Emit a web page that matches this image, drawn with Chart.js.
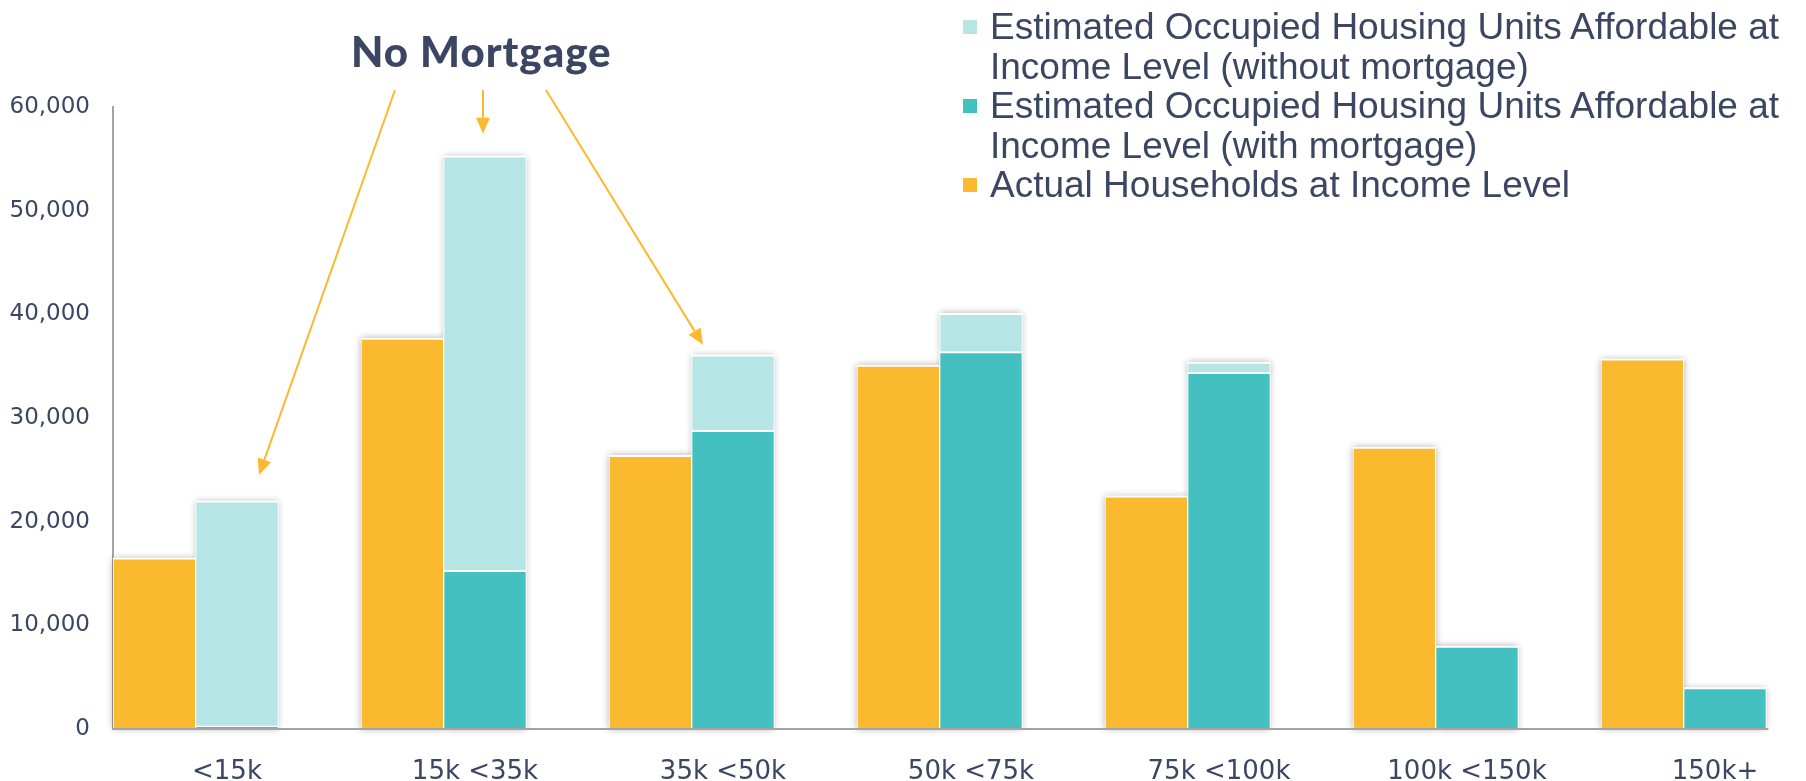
<!DOCTYPE html>
<html><head><meta charset="utf-8">
<script src="https://cdn.jsdelivr.net/npm/chart.js@4"></script>
<style>
html,body{margin:0;padding:0;background:#fff;overflow:hidden;width:1806px;height:781px;}
#wrap{position:absolute;left:0;top:0;width:1856px;height:781px;}
#title{position:absolute;left:351px;top:26px;font:900 42px Lato;color:#3B4662;letter-spacing:1px;white-space:nowrap;}
#legend{position:absolute;left:963px;top:7px;font:37px "Liberation Sans";line-height:39.5px;color:#3B4662;white-space:nowrap;}
.item{position:relative;padding-left:27px;}
.sw{position:absolute;left:0;top:13px;width:14px;height:14px;}
</style></head>
<body>
<div id="wrap"><canvas id="c" width="1856" height="781"></canvas></div>
<div id="title">No Mortgage</div>
<div id="legend"></div>
<script>
const categories = ['<15k', '15k <35k', '35k <50k', '50k <75k', '75k <100k', '100k <150k', '150k+'];
const actualHouseholds = [16500, 37700, 26400, 35100, 22500, 27200, 35700];
const affordableWithMortgage = [300, 15300, 28800, 36400, 34400, 8000, 4000];
const affordableWithoutMortgage = [21700, 40000, 7300, 3700, 1000, 0, 0];
const seriesNames = [
  'Estimated Occupied Housing Units Affordable at<br>Income Level (without mortgage)',
  'Estimated Occupied Housing Units Affordable at<br>Income Level (with mortgage)',
  'Actual Households at Income Level'
];
const colors = {orange:'#FBB92F', teal:'#43C0BF', light:'#B5E6E5', text:'#3B4662', axis:'#A3A3A8'};

// HTML legend
const lg = document.getElementById('legend');
[[seriesNames[0], colors.light],[seriesNames[1], colors.teal],[seriesNames[2], colors.orange]].forEach(([t,c])=>{
  const d=document.createElement('div'); d.className='item';
  d.innerHTML='<span class="sw" style="background:'+c+'"></span>'+t; lg.appendChild(d);
});

const barCommon = {barPercentage:1, categoryPercentage:1, borderColor:'#fff',
  borderWidth:{top:2,left:1,right:1,bottom:0}, borderSkipped:false};

const shadowPlugin = {
  id:'shadowPlugin',
  beforeDatasetsDraw(chart){
    const ctx=chart.ctx; ctx.save();
    ctx.shadowColor='rgba(0,0,0,0.32)'; ctx.shadowBlur=7; ctx.fillStyle='#fff';
    chart.data.datasets.forEach((ds,i)=>{
      const meta=chart.getDatasetMeta(i);
      meta.data.forEach(el=>{
        const p=el.getProps(['x','y','base','width'],true);
        if(!isFinite(p.y)||!isFinite(p.base)||Math.abs(p.base-p.y)<0.5) return;
        ctx.fillRect(p.x-p.width/2, Math.min(p.y,p.base), p.width, Math.abs(p.base-p.y));
      });
    });
    ctx.restore();
  }
};

const axisPlugin = {
  id:'axisPlugin',
  afterDatasetsDraw(chart){
    const ctx=chart.ctx, y=chart.scales.y.getPixelForValue(0);
    const meta=chart.getDatasetMeta(1); const last=meta.data[meta.data.length-1];
    const right=last.x+last.width/2;
    ctx.save(); ctx.strokeStyle=colors.axis; ctx.lineWidth=2;
    ctx.beginPath(); ctx.moveTo(chart.chartArea.left-1,y); ctx.lineTo(right+2,y); ctx.stroke(); ctx.restore();
  }
};

function arrow(ctx,x1,y1,x2,y2){
  const a=Math.atan2(y2-y1,x2-x1), L=16, Wd=7;
  const bx=x2-L*Math.cos(a), by=y2-L*Math.sin(a);
  ctx.beginPath(); ctx.moveTo(x1,y1); ctx.lineTo(bx,by); ctx.stroke();
  ctx.beginPath(); ctx.moveTo(x2,y2);
  ctx.lineTo(bx+Wd*Math.sin(a), by-Wd*Math.cos(a));
  ctx.lineTo(bx-Wd*Math.sin(a), by+Wd*Math.cos(a)); ctx.closePath(); ctx.fill();
}
const arrowPlugin = {
  id:'arrowPlugin',
  afterDraw(chart){
    const ctx=chart.ctx, top=chart.getDatasetMeta(2).data;
    ctx.save(); ctx.strokeStyle=colors.orange; ctx.fillStyle=colors.orange; ctx.lineWidth=2;
    arrow(ctx,395,90, top[0].x+22, top[0].y-26);
    const x2=Math.round(top[1].x-2);
    arrow(ctx,x2,90, x2, top[1].y-22);
    arrow(ctx,546,90, top[2].x-30, top[2].y-10);
    ctx.restore();
  }
};

new Chart(document.getElementById('c'), {
  type:'bar',
  data:{
    labels:categories,
    datasets:[
      Object.assign({label:'Actual Households at Income Level', data:actualHouseholds, backgroundColor:colors.orange, stack:'a'}, barCommon),
      Object.assign({label:'Estimated Occupied Housing Units Affordable at Income Level (with mortgage)', data:affordableWithMortgage, backgroundColor:colors.teal, stack:'b'}, barCommon),
      Object.assign({label:'Estimated Occupied Housing Units Affordable at Income Level (without mortgage)', data:affordableWithoutMortgage, backgroundColor:colors.light, stack:'b'}, barCommon),
      Object.assign({label:'', data:categories.map(()=>null), backgroundColor:'rgba(0,0,0,0)', stack:'c'}, barCommon)
    ]
  },
  options:{
    responsive:false, animation:false, devicePixelRatio:1,
    layout:{padding:{left:0,top:107,right:7,bottom:0}},
    plugins:{legend:{display:false}, tooltip:{enabled:false}},
    scales:{
      x:{stacked:true, grid:{display:false}, border:{display:false},
         ticks:{font:{family:'DejaVu Sans',size:26}, color:colors.text, padding:20, labelOffset:-10, maxRotation:0, autoSkip:false},
         afterFit(s){s.height=52;}},
      y:{stacked:true, min:0, max:60000, grid:{display:false},
         border:{display:true,color:colors.axis,width:2},
         ticks:{stepSize:10000, font:{family:'DejaVu Sans',size:23}, color:colors.text, padding:15,
                callback:v=>v.toLocaleString('en-US')},
         afterFit(s){s.width=113;}}
    }
  },
  plugins:[shadowPlugin, axisPlugin, arrowPlugin]
});
</script>
</body></html>
